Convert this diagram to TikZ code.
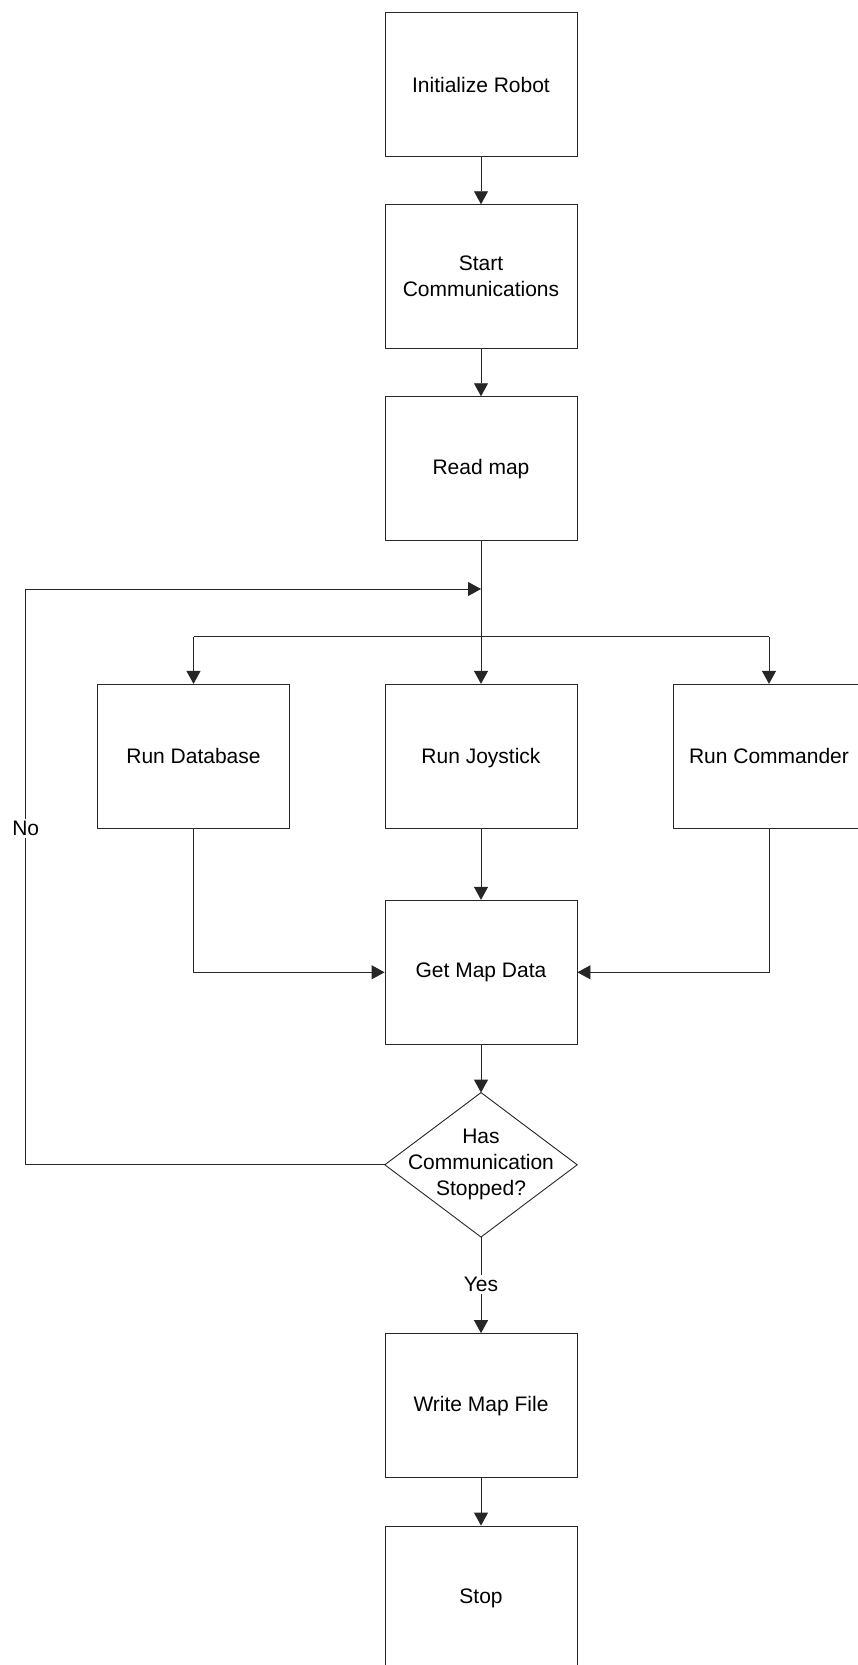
\documentclass[tikz,border=0pt]{standalone}
\usepackage{fontspec}
\usepackage{amsmath}
\setmainfont{Liberation Sans}
\usetikzlibrary{arrows.meta}
\begin{document}
\begin{tikzpicture}[x=1pt,y=1pt,
  line/.style={draw=black!85, line width=0.9pt},
  arrow/.style={line, -{Triangle[length=13pt,width=14pt]}},
  proc/.style={draw=black!85, line width=0.9pt, rectangle, minimum width=192pt,
    minimum height=144pt, inner sep=0pt, align=center,
    font=\fontsize{21}{26}\selectfont},
  decbox/.style={rectangle, minimum width=192pt, minimum height=144pt,
    inner sep=0pt, align=center, font=\fontsize{21}{26}\selectfont},
  lbl/.style={fill=white, inner sep=2pt, font=\fontsize{21}{26}\selectfont}]
\useasboundingbox (0,0) rectangle (858,-1665);
\clip (0,0) rectangle (858,-1665);

% main column
\node[proc] (init)  at (481,-84.7)  {Initialize Robot};
\node[proc] (comm)  at (481,-276.7) {Start\\Communications};
\node[proc] (read)  at (481,-468.7) {Read map};

% parallel tasks
\node[proc] (db)    at (193.5,-756.3) {Run Database};
\node[proc] (joy)   at (481,-756.3)   {\smash[b]{Run Joystick}};
\node[proc] (cmd)   at (769,-756.3)   {Run Commander};

\node[proc] (get)   at (481,-972.3)   {Get Map Data};

% decision
\node[decbox] (dec) at (481,-1164.8) {Has\\Communication\\Stopped?};
\draw[line] (dec.north) -- (dec.east) -- (dec.south) -- (dec.west) -- cycle;

\node[proc] (write) at (481,-1405.6) {Write Map File};
\node[proc] (stop)  at (481,-1598)   {Stop};

% junction points
\coordinate (join) at (481,-589);
\coordinate (splitL) at (193.5,-636.7);
\coordinate (splitR) at (769,-636.7);
\coordinate (loopTop) at (25.7,-589);
\coordinate (loopBot) at (25.7,-1164.8);

% connectors
\draw[arrow] (init) -- (comm);
\draw[arrow] (comm) -- (read);
\draw[arrow] (read) -- (joy);
\draw[line] (splitL) -- (splitR);
\draw[arrow] (splitL) -- (db);
\draw[arrow] (splitR) -- (cmd);
\draw[arrow] (joy) -- (get);
\draw[arrow] (db.south) |- (get.west);
\draw[arrow] (cmd.south) |- (get.east);
\draw[arrow] (get) -- (dec.north);
\draw[arrow] (dec.west) -- (loopBot) -- (loopTop) -- (join);
\draw[arrow] (dec.south) -- (write);
\draw[arrow] (write) -- (stop);

% branch labels
\node[lbl] (no)  at (25.7,-828.7) {No};
\node[lbl] (yes) at (481,-1284.8) {Yes};
\end{tikzpicture}
\end{document}
